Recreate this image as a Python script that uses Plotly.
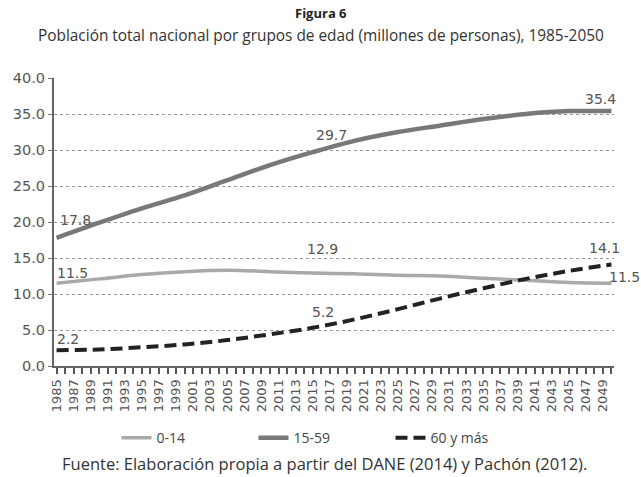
import plotly.graph_objects as go

years = [1985, 1990, 1995, 2000, 2005, 2010, 2015, 2020, 2025, 2030, 2035, 2040, 2045, 2050]
age_0_14 = [11.5, 12.1, 12.7, 13.1, 13.3, 13.1, 12.9, 12.8, 12.6, 12.5, 12.2, 11.9, 11.6, 11.5]
age_15_59 = [17.8, 19.9, 21.9, 23.7, 25.8, 27.9, 29.7, 31.3, 32.5, 33.4, 34.3, 35.0, 35.4, 35.4]
age_60 = [2.2, 2.3, 2.6, 3.0, 3.6, 4.4, 5.3, 6.5, 7.9, 9.4, 10.8, 12.1, 13.2, 14.1]

tick_years = list(range(1985, 2050, 2))
y_ticks = [0, 5, 10, 15, 20, 25, 30, 35, 40]

num_font = "DejaVu Sans, Liberation Sans, Arial"
txt_font = "Open Sans, Noto Sans, sans-serif"

fig = go.Figure()
fig.add_trace(go.Scatter(x=years, y=age_0_14, name="0-14", mode="lines",
                         line=dict(color="#a9a9a9", width=3.5, shape="spline")))
fig.add_trace(go.Scatter(x=years, y=age_15_59, name="15-59", mode="lines",
                         line=dict(color="#787878", width=4.5, shape="spline")))
fig.add_trace(go.Scatter(x=years, y=age_60, name="60 y más", mode="lines",
                         line=dict(color="#222222", width=4, shape="spline", dash="12px,6px")))

ann = []
def lab(x, y, text, xshift=0, yshift=0, xanchor="center"):
    ann.append(dict(x=x, y=y, text=text, showarrow=False, xref="x", yref="y",
                    xshift=xshift, yshift=yshift, xanchor=xanchor,
                    font=dict(family=num_font, size=14, color="#555555")))

lab(years[0], age_15_59[0], "17.8", xshift=19, yshift=18)
lab(years[0], age_0_14[0], "11.5", xshift=16, yshift=10)
lab(years[0], age_60[0], "2.2", xshift=11, yshift=11)
lab(years[6], age_15_59[6], "29.7", xshift=19, yshift=17)
lab(years[6], age_0_14[6], "12.9", xshift=10, yshift=24)
lab(years[6], "5.2" and age_60[6], "5.2", xshift=10, yshift=16)
lab(years[-1], age_15_59[-1], "35.4", xshift=-11, yshift=12)
lab(years[-1], age_60[-1], "14.1", xshift=-7, yshift=16)
lab(years[-1], age_0_14[-1], "11.5", xshift=-4, yshift=6, xanchor="left")

cx = (320.5 - 54) / 560
ann.append(dict(x=cx, y=1.0, xref="paper", yref="paper", yanchor="middle",
                yshift=65, text="<b>Figura 6</b>", showarrow=False,
                font=dict(family=txt_font, size=13, color="#222")))
ann.append(dict(x=cx, y=1.0, xref="paper", yref="paper", yanchor="middle",
                yshift=43, text="Población total nacional por grupos de edad (millones de personas), 1985-2050",
                showarrow=False, font=dict(family=txt_font, size=15.4, color="#333")))
ann.append(dict(x=(324 - 54) / 560, y=0, xref="paper", yref="paper", yanchor="middle",
                yshift=-97, text="Fuente: Elaboración propia a partir del DANE (2014) y Pachón (2012).",
                showarrow=False, font=dict(family=txt_font, size=16.5, color="#333")))

fig.update_layout(
    width=641, height=477,
    margin=dict(l=54, r=27, t=78, b=111, autoexpand=False),
    paper_bgcolor="white", plot_bgcolor="white",
    annotations=ann,
    showlegend=True,
    legend=dict(orientation="h", x=(322 - 54) / 560, xanchor="center", y=-0.195, yanchor="top",
                font=dict(family=txt_font, size=14, color="#444"),
                entrywidth=92, entrywidthmode="pixels"),
    xaxis=dict(range=[1984.7, 2050.3], tickmode="array", tickvals=tick_years,
               ticktext=[str(y) for y in tick_years], tickangle=-90,
               ticks="outside", ticklen=6, tickcolor="#555", tickwidth=1.5,
               showline=True, linecolor="#666", linewidth=2,
               showgrid=False, zeroline=False, automargin=False,
               minor=dict(dtick=1, tick0=1985, ticks="outside", ticklen=6, tickcolor="#555"),
               tickfont=dict(family=num_font, size=13, color="#555")),
    yaxis=dict(range=[0, 40], tickvals=y_ticks, tickformat=".1f",
               ticks="outside", ticklen=4, tickcolor="#777",
               showline=True, linecolor="#666", linewidth=2,
               showgrid=True, gridcolor="#999", griddash="dot", gridwidth=1,
               zeroline=False, automargin=False,
               tickfont=dict(family=num_font, size=14.5, color="#555")),
)

fig.write_html("out.html", config={"displayModeBar": False},
               post_script="document.body.style.margin='0';")
